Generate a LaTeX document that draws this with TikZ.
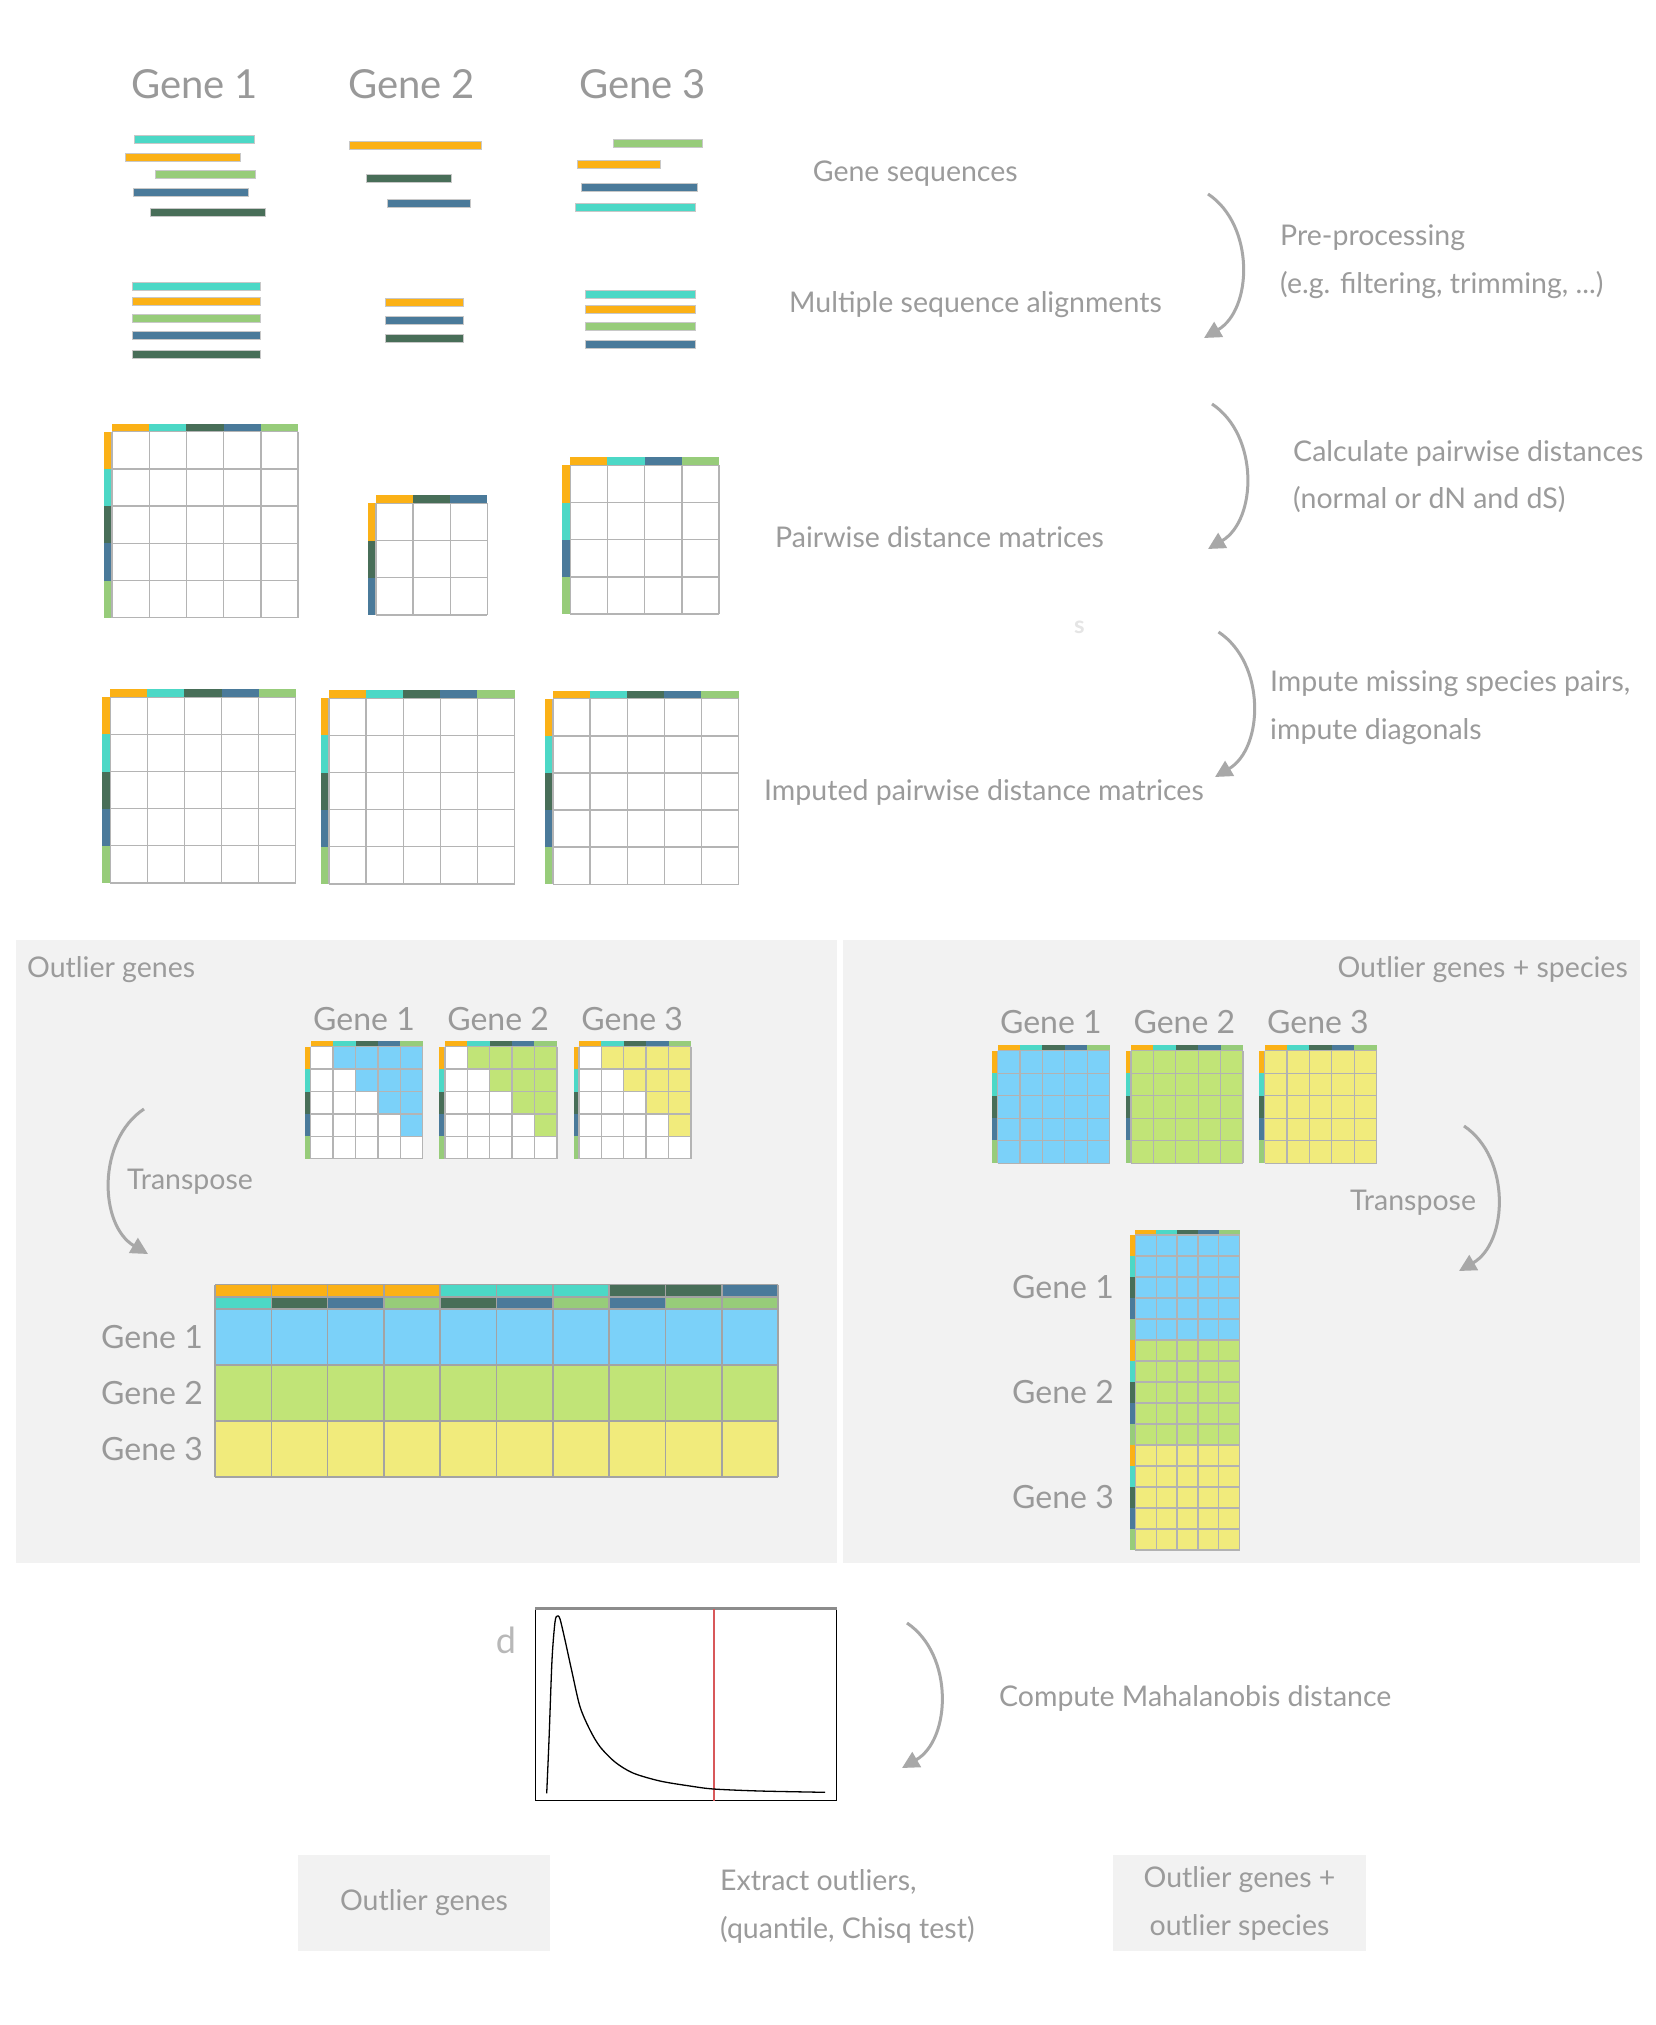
\documentclass[tikz,border=0pt]{standalone}
\usepackage{fontspec}
\setmainfont{Lato}
\usetikzlibrary{arrows.meta}

% species colours
\definecolor{seqorange}{HTML}{FBB116}
\definecolor{seqteal}{HTML}{4CD8C6}
\definecolor{seqforest}{HTML}{486E58}
\definecolor{seqsteel}{HTML}{4A7A9A}
\definecolor{seqlime}{HTML}{97CC7A}
% gene colours
\definecolor{geneblue}{HTML}{7BD1F9}
\definecolor{genegreen}{HTML}{C1E477}
\definecolor{geneyellow}{HTML}{F1EB7C}
% greys
\definecolor{labelgray}{HTML}{9B9B9B}
\definecolor{titlegray}{HTML}{999999}
\definecolor{arrowgray}{HTML}{A8A8A8}
\definecolor{gridgray}{HTML}{B4B4B4}
\definecolor{panelgray}{HTML}{F2F2F2}
\definecolor{seqedge}{HTML}{C8C8C8}
\definecolor{cutred}{HTML}{D8585A}

\tikzset{
  lbl/.style={text=labelgray, font=\fontsize{28.5}{47.5}\selectfont, inner sep=0pt},
  genetitle/.style={text=titlegray, font=\fontsize{40}{48}\selectfont, inner sep=0pt},
  genelbl/.style={text=titlegray, font=\fontsize{32}{38}\selectfont, inner sep=0pt},
  flow/.style={draw=arrowgray, line width=3pt, -{Triangle[length=17pt,width=17pt]}},
  seq/.style={draw=seqedge, line width=0.8pt},
  gridline/.style={draw=gridgray, line width=1.4pt},
  panel/.style={fill=panelgray, draw=none},
}

% one sequence bar: x from, x to, top y, colour
\newcommand{\seqbar}[4]{\draw[seq, fill=#4] (#1,#3) rectangle (#2,{#3+8});}
% species bars on top and left of a matrix: corner x, y, cell, bar width, colours
\newcommand{\specbars}[5]{%
  \edef\splist{#5}%
  \foreach \c [count=\k from 0] in \splist {
    \fill[\c] ({#1+\k*#3},{#2-#4}) rectangle ++(#3,#4);
    \fill[\c] ({#1-#4},{#2+\k*#3}) rectangle ++(#4,#3);
  }}
% grid lines: corner x, y, cols, rows, cell w, cell h
\newcommand{\cellgrid}[6]{%
  \foreach \k in {0,...,#3} \draw[gridline] ({#1+\k*#5},#2) -- ++(0,{#4*#6});
  \foreach \k in {0,...,#4} \draw[gridline] (#1,{#2+\k*#6}) -- ++({#3*#5},0);
}
% coloured cells above the diagonal of a 5x5 matrix
\newcommand{\uppertri}[4]{%
  \foreach \r in {0,...,4} \foreach \s in {0,...,4} {
    \ifnum\s>\r \fill[#4] ({#1+\s*#3},{#2+\r*#3}) rectangle ++(#3,#3); \fi
  }}
\newcommand{\allsp}{seqorange,seqteal,seqforest,seqsteel,seqlime}
\edef\tallsp{\allsp,\allsp,\allsp}

\begin{document}
\begin{tikzpicture}[x=1pt, y=-1pt]
\useasboundingbox[fill=white] (0,0) rectangle (1655,2025);

% gene titles
\node[genetitle, anchor=base] (title1) at (194.5,99) {Gene 1};
\node[genetitle, anchor=base] (title2) at (411.5,99) {Gene 2};
\node[genetitle, anchor=base] (title3) at (642.5,99) {Gene 3};

% raw gene sequences
\seqbar{134.6}{254.2}{135}{seqteal}
\seqbar{125}{240.8}{153.3}{seqorange}
\seqbar{155.4}{255.8}{170.7}{seqlime}
\seqbar{132.9}{248.3}{188}{seqsteel}
\seqbar{150.4}{265.8}{208}{seqforest}
\seqbar{349.6}{481.7}{141.7}{seqorange}
\seqbar{366.3}{451.3}{174.3}{seqforest}
\seqbar{387.5}{470.8}{199.3}{seqsteel}
\seqbar{613.3}{702.5}{139.3}{seqlime}
\seqbar{577}{660.4}{160.7}{seqorange}
\seqbar{581.7}{697}{183}{seqsteel}
\seqbar{575.8}{695}{203.3}{seqteal}

% alignments
\foreach \c/\y in {seqteal/282.3, seqorange/297.3, seqlime/314, seqsteel/331.7, seqforest/350}
  \seqbar{132}{260.4}{\y}{\c};
\foreach \c/\y in {seqorange/298.3, seqsteel/316.3, seqforest/334}
  \seqbar{385}{463}{\y}{\c};
\foreach \c/\y in {seqteal/290.7, seqorange/305.7, seqlime/322.7, seqsteel/340}
  \seqbar{585.8}{695.8}{\y}{\c};

% pairwise distance matrices
\specbars{112}{431.7}{37.2}{8}{\allsp}
\cellgrid{112}{431.7}{5}{5}{37.2}{37.2}
\specbars{375.8}{503.3}{37.2}{8}{seqorange,seqforest,seqsteel}
\cellgrid{375.8}{503.3}{3}{3}{37.2}{37.2}
\specbars{570.2}{465.3}{37.2}{8}{seqorange,seqteal,seqsteel,seqlime}
\cellgrid{570.2}{465.3}{4}{4}{37.2}{37.2}

% imputed matrices
\foreach \x/\y in {110.2/697.3, 329/698.3, 553/698.7} {
  \specbars{\x}{\y}{37.1}{8}{\allsp}
  \cellgrid{\x}{\y}{5}{5}{37.1}{37.1}
}

% step labels
\node[lbl, anchor=base west] (seqs) at (812.6,182) {Gene sequences};
\node[lbl, anchor=base west] (msa) at (789,312.6) {Multiple sequence alignments};
\node[lbl, anchor=base west] (prep) at (1280,245.6) {Pre-processing};
\node[lbl, anchor=base west] (prepnote) at (1280,293.5) {(e.g. filtering, trimming, ...)};
\node[lbl, anchor=base west] (calc) at (1293,461) {Calculate pairwise distances};
\node[lbl, anchor=base west] (calcnote) at (1293,508.7) {(normal or dN and dS)};
\node[lbl, anchor=base west] (pwmat) at (775,547.8) {Pairwise distance matrices};
\node[lbl, anchor=base, text=black!10, font=\bfseries\fontsize{24}{30}\selectfont] (stray) at (1079.5,633) {s};
\node[lbl, anchor=base west] (imp) at (1270,691.3) {Impute missing species pairs,};
\node[lbl, anchor=base west] (impnote) at (1270,739) {impute diagonals};
\node[lbl, anchor=base west] (impmat) at (764,800) {Imputed pairwise distance matrices};

% step arrows
\coordinate (a1s) at (1208,194);   \coordinate (a1e) at (1204,338);
\coordinate (a2s) at (1212,404);   \coordinate (a2e) at (1208,549);
\coordinate (a3s) at (1218.5,632); \coordinate (a3e) at (1215,777);
\draw[flow] (a1s) to[bend left=58] (a1e);
\draw[flow] (a2s) to[bend left=58] (a2e);
\draw[flow] (a3s) to[bend left=58] (a3e);

% panels
\fill[panel] (15.5,940) rectangle (836.5,1563);
\fill[panel] (843,940) rectangle (1640,1563);
\node[lbl, anchor=base west] (pgenes) at (27,977) {Outlier genes};
\node[lbl, anchor=base east] (pspecies) at (1628,977) {Outlier genes + species};

% left panel: upper triangles per gene
\foreach \x/\c [count=\g] in {310.7/geneblue, 444.8/genegreen, 578.9/geneyellow} {
  \fill[white] (\x,1046.7) rectangle ++(112,112);
  \uppertri{\x}{1046.7}{22.4}{\c}
  \specbars{\x}{1046.7}{22.4}{5.4}{\allsp}
  \cellgrid{\x}{1046.7}{5}{5}{22.4}{22.4}
  \node[genelbl, anchor=base] (lg\g) at ({\x+53.3},1030) {Gene \g};
}

% left panel: genes by species pairs
\foreach \a/\b [count=\k from 0] in {seqorange/seqteal, seqorange/seqforest, seqorange/seqsteel, seqorange/seqlime, seqteal/seqforest, seqteal/seqsteel, seqteal/seqlime, seqforest/seqsteel, seqforest/seqlime, seqsteel/seqlime} {
  \fill[\a] ({215+\k*56.3},1284.5) rectangle ++(56.3,12.25);
  \fill[\b] ({215+\k*56.3},1296.75) rectangle ++(56.3,12.25);
}
\foreach \c [count=\k from 0] in {geneblue, genegreen, geneyellow}
  \fill[\c] (215,{1309+\k*56}) rectangle ++(563,56);
\begin{scope}[gridline/.append style={draw=black!36, line width=1.6pt}]
\cellgrid{215}{1284.5}{10}{2}{56.3}{12.25}
\cellgrid{215}{1309}{10}{3}{56.3}{56}
\end{scope}
\foreach \g in {1,2,3}
  \node[genelbl, anchor=base east] (lrow\g) at (203,{1309+(\g-0.5)*56+11}) {Gene \g};

\coordinate (t1s) at (144,1109); \coordinate (t1e) at (148,1254);
\draw[flow] (t1s) to[bend right=58] (t1e);
\node[lbl, anchor=base west] (tr1) at (127,1189) {Transpose};

% right panel: full matrices per gene
\begin{scope}[gridline/.append style={draw=black!30, line width=1.2pt}]
\foreach \x/\c [count=\g] in {997.5/geneblue, 1131/genegreen, 1264.6/geneyellow} {
  \fill[\c] (\x,1050.8) rectangle ++(112,112.5);
  \specbars{\x}{1050.8}{22.4}{5.4}{\allsp}
  \cellgrid{\x}{1050.8}{5}{5}{22.4}{22.5}
  \node[genelbl, anchor=base] (rg\g) at ({\x+53.3},1033) {Gene \g};
}

% right panel: stacked genes
\foreach \c [count=\k from 0] in \allsp
  \fill[\c] ({1135.2+\k*20.9},1230) rectangle ++(20.9,5);
\foreach \c [count=\k from 0] in \tallsp
  \fill[\c] (1129.5,{1235+\k*21}) rectangle ++(5.7,21);
\foreach \c [count=\k from 0] in {geneblue, genegreen, geneyellow}
  \fill[\c] (1135.2,{1235+\k*105}) rectangle ++(104.5,105);
\cellgrid{1135.2}{1235}{5}{15}{20.9}{21}
\end{scope}
\foreach \g in {1,2,3}
  \node[genelbl, anchor=base east] (rrow\g) at (1114,{1235+(\g-0.5)*105+11}) {Gene \g};

\coordinate (t2s) at (1464,1126); \coordinate (t2e) at (1459,1271);
\draw[flow] (t2s) to[bend left=58] (t2e);
\node[lbl, anchor=base west] (tr2) at (1350,1210) {Transpose};

% distance distribution
\draw[black, line width=1.5pt] (535.3,1608.7) rectangle (836.7,1800.7);
\draw[black!45, line width=2.5pt] (535.3,1608.7) -- (836.7,1608.7);
\draw[cutred, line width=1.6pt] (713.7,1608.7) -- (713.7,1800.7);
\draw[black, line width=1.3pt] plot[smooth, tension=0.5] coordinates {
  (546.7,1793.3) (549,1740) (552,1660) (555,1622) (557.3,1616) (560,1619)
  (565,1640) (572,1672) (580,1706.7) (590,1730) (600,1746.7) (615,1762)
  (633,1773) (660,1781) (690,1786) (713.7,1789) (760,1791) (825,1792.3)};
\node[genelbl, text=black!28, font=\fontsize{36}{40}\selectfont, anchor=base] (dlbl) at (506,1653) {d};

\coordinate (ms) at (907,1623); \coordinate (me) at (902,1768);
\draw[flow] (ms) to[bend left=58] (me);
\node[lbl, anchor=base west] (maha) at (999,1706) {Compute Mahalanobis distance};

% results
\node[lbl, panel, minimum width=252.5pt, minimum height=96pt] (resg) at (424,1903) {Outlier genes};
\node[lbl, anchor=base west, align=left] (extract) at (720,1938) {Extract outliers,\\(quantile, Chisq test)};
\node[lbl, panel, minimum width=253pt, minimum height=96pt, align=center] (ress) at (1239.5,1903) {\rule{0pt}{22pt}Outlier genes +\\outlier species};

\end{tikzpicture}
\end{document}
